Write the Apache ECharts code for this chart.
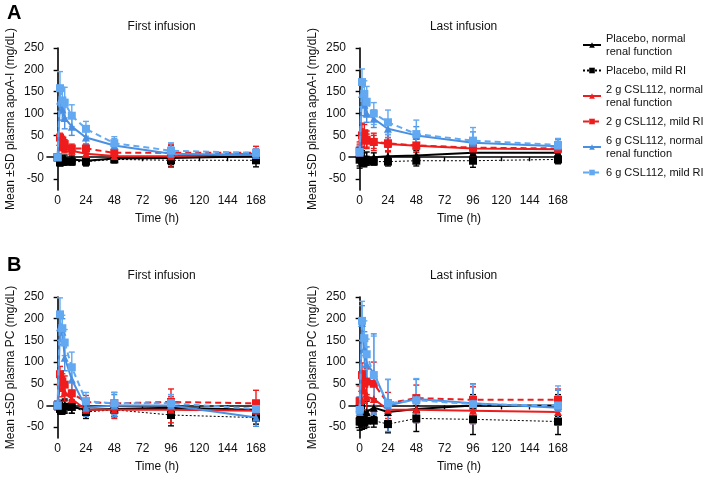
<!DOCTYPE html>
<html><head><meta charset="utf-8">
<script src="https://cdn.jsdelivr.net/npm/echarts@6/dist/echarts.min.js"></script>
<style>html,body{margin:0;padding:0;background:#fff}#c{width:710px;height:478px}</style>
</head><body><div id="c"></div>
<script>
// ---------- data ----------
const hours = [0, 2, 4, 6, 12, 24, 48, 96, 168];
const seriesNames = ['Placebo, normal renal function', 'Placebo, mild RI', '2 g CSL112, normal renal function', '2 g CSL112, mild RI', '6 g CSL112, normal renal function', '6 g CSL112, mild RI'];
const xTickValues = [0, 24, 48, 72, 96, 120, 144, 168];
const yTickValues = [-50, 0, 50, 100, 150, 200, 250];
const panelTitles = ['First infusion', 'Last infusion', 'First infusion', 'Last infusion'];
const yAxisNames = ['Mean ±SD plasma apoA-I (mg/dL)', 'Mean ±SD plasma apoA-I (mg/dL)', 'Mean ±SD plasma PC (mg/dL)', 'Mean ±SD plasma PC (mg/dL)'];

// apoA-I, first infusion (rows follow seriesNames)
const apoFirstMean = [
  [0, -5, -5, -3, -5, -8, -3, -2, 2],
  [0, -12, -10, -10, -10, -10, -5, -7, -7],
  [0, 35, 25, 20, 15, 8, 3, 2, 8],
  [0, 45, 38, 30, 20, 20, 10, 10, 10],
  [0, 130, 110, 90, 70, 45, 27, 8, 5],
  [0, 158, 130, 125, 95, 65, 32, 15, 10]
];
const apoFirstSD = [
  [5, 8, 8, 8, 8, 10, 8, 15, 10],
  [5, 8, 8, 8, 8, 10, 8, 15, 15],
  [5, 10, 10, 10, 10, 10, 10, 25, 10],
  [5, 10, 10, 10, 10, 10, 10, 20, 15],
  [5, 25, 25, 25, 20, 15, 15, 15, 10],
  [5, 38, 30, 35, 25, 17, 15, 18, 10]
];
// apoA-I, last infusion
const apoLastMean = [
  [-5, 0, -5, -3, 0, 2, 4, 10, 10],
  [-5, -8, -10, -8, -10, -10, -8, -8, -5],
  [10, 45, 40, 38, 35, 30, 26, 20, 18],
  [15, 50, 55, 40, 35, 32, 27, 22, 20],
  [10, 145, 120, 100, 88, 65, 50, 33, 25],
  [12, 172, 145, 127, 100, 80, 53, 38, 28]
];
const apoLastSD = [
  [20, 15, 15, 15, 10, 12, 12, 15, 15],
  [15, 12, 12, 10, 8, 10, 12, 15, 10],
  [20, 20, 20, 15, 15, 15, 15, 15, 10],
  [20, 28, 20, 20, 20, 20, 15, 20, 10],
  [15, 30, 25, 20, 20, 20, 20, 25, 15],
  [15, 30, 30, 35, 25, 28, 32, 30, 15]
];
// PC, first infusion
const pcFirstMean = [
  [0, -3, -5, 0, -3, -10, -8, -5, -10],
  [0, -8, -8, -3, -3, -15, -10, -22, -28],
  [0, 55, 40, 30, 15, -10, -10, -10, -12],
  [0, 72, 55, 48, 28, 8, 5, 8, 5],
  [0, 180, 170, 110, 60, -5, 0, 0, -28],
  [0, 210, 178, 145, 88, 10, 5, 5, -8]
];
const pcFirstSD = [
  [10, 15, 15, 15, 15, 15, 18, 20, 15],
  [10, 12, 12, 15, 15, 15, 15, 25, 15],
  [10, 20, 20, 20, 20, 15, 20, 30, 20],
  [10, 18, 18, 20, 25, 15, 25, 30, 30],
  [10, 30, 30, 30, 30, 20, 25, 25, 20],
  [10, 38, 30, 30, 35, 20, 25, 20, 20]
];
// PC, last infusion
const pcLastMean = [
  [-20, -25, -20, -15, -5, -15, -8, 0, 0],
  [-37, -40, -38, -35, -35, -43, -30, -32, -37],
  [-5, 40, 35, 20, 15, -10, -10, -12, -15],
  [10, 70, 50, 55, 50, 5, 17, 13, 13],
  [-15, 190, 130, 95, 75, 0, 15, 5, -5],
  [-10, 195, 155, 118, 70, 5, 12, 3, 0]
];
const pcLastSD = [
  [25, 25, 25, 25, 20, 20, 30, 25, 25],
  [20, 15, 15, 15, 15, 20, 30, 35, 30],
  [25, 30, 30, 30, 30, 20, 30, 30, 25],
  [35, 28, 30, 30, 50, 25, 30, 30, 25],
  [30, 40, 40, 40, 90, 60, 45, 45, 40],
  [30, 45, 40, 35, 90, 55, 50, 45, 45]
];

// ---------- styles ----------
const FONT = 'Liberation Sans, Arial, sans-serif';
const colors = ['#000000', '#000000', '#ee1c1c', '#ee1c1c', '#4a90e2', '#62a9f2'];
const symbols = ['triangle', 'rect', 'triangle', 'rect', 'triangle', 'rect'];
const lineTypes = ['solid', [2, 2], 'solid', [6, 4], 'solid', [6, 4]];
const lineWidths = [2, 1, 2, 2, 2, 2];
const legendText = {
  'Placebo, normal renal function': 'Placebo, normal\nrenal function',
  'Placebo, mild RI': 'Placebo, mild RI',
  '2 g CSL112, normal renal function': '2 g CSL112, normal\nrenal function',
  '2 g CSL112, mild RI': '2 g CSL112, mild RI',
  '6 g CSL112, normal renal function': '6 g CSL112, normal\nrenal function',
  '6 g CSL112, mild RI': '6 g CSL112, mild RI'
};

const panels = [
  {mean: apoFirstMean, sd: apoFirstSD},
  {mean: apoLastMean, sd: apoLastSD},
  {mean: pcFirstMean, sd: pcFirstSD},
  {mean: pcLastMean, sd: pcLastSD}
];
const gridPos = [
  {left: 47, top: 48, width: 209, height: 142},
  {left: 349, top: 48, width: 209, height: 142},
  {left: 47, top: 297, width: 209, height: 141},
  {left: 349, top: 297, width: 209, height: 141}
];

const grids = [], xAxes = [], yAxes = [], series = [], titles = [];
gridPos.forEach((g, p) => {
  grids.push(Object.assign({containLabel: false}, g));
  xAxes.push({
    type: 'value', gridIndex: p, min: -9, max: 168,
    axisLine: {show: true, lineStyle: {color: '#000', width: 1.6}},
    axisTick: {show: true, length: 4, customValues: xTickValues, lineStyle: {color: '#000', width: 1.4}},
    axisLabel: {customValues: xTickValues, color: '#111', fontSize: 12, fontFamily: FONT, margin: 5},
    splitLine: {show: false},
    name: 'Time (h)', nameLocation: 'middle', nameGap: 23,
    nameTextStyle: {color: '#111', fontSize: 12, fontFamily: FONT, padding: [0, 0, 0, 11]}
  });
  yAxes.push({
    type: 'value', gridIndex: p, min: -75, max: 250,
    axisLine: {show: true, lineStyle: {color: '#000', width: 1.6}},
    axisTick: {show: true, length: 4, customValues: yTickValues, lineStyle: {color: '#000', width: 1.4}},
    axisLabel: {customValues: yTickValues, color: '#111', fontSize: 12, fontFamily: FONT, margin: 3},
    splitLine: {show: false},
    name: yAxisNames[p], nameLocation: 'middle', nameGap: 30,
    nameTextStyle: {color: '#111', fontSize: 12, fontFamily: FONT}
  });
  titles.push({
    text: panelTitles[p],
    left: g.left + 10.6 + 99, top: g.top - 32, textAlign: 'center',
    textStyle: {fontSize: 12, fontWeight: 'normal', color: '#111', fontFamily: FONT}
  });
  const P = panels[p];
  for (let s = 0; s < 6; s++) {
    const errData = hours.map((h, i) => [h, P.mean[s][i] - P.sd[s][i], P.mean[s][i] + P.sd[s][i]]);
    series.push({
      type: 'custom', xAxisIndex: p, yAxisIndex: p, silent: true, z: 2 + s,
      encode: {x: 0, y: [1, 2]},
      data: errData,
      renderItem: ((col) => function (params, api) {
        const lo = api.coord([api.value(0), api.value(1)]);
        const hi = api.coord([api.value(0), api.value(2)]);
        const w = 3;
        const st = {stroke: col, lineWidth: 1.4};
        return {type: 'group', children: [
          {type: 'line', shape: {x1: lo[0], y1: lo[1], x2: hi[0], y2: hi[1]}, style: st},
          {type: 'line', shape: {x1: lo[0] - w, y1: lo[1], x2: lo[0] + w, y2: lo[1]}, style: st},
          {type: 'line', shape: {x1: hi[0] - w, y1: hi[1], x2: hi[0] + w, y2: hi[1]}, style: st}
        ]};
      })(colors[s])
    });
    series.push({
      type: 'line', name: seriesNames[s], xAxisIndex: p, yAxisIndex: p, z: 10 + s,
      data: hours.map((h, i) => [h, P.mean[s][i]]),
      symbol: symbols[s], symbolSize: 8,
      showSymbol: true, animation: false,
      itemStyle: {color: colors[s]},
      lineStyle: {color: colors[s], width: lineWidths[s], type: lineTypes[s]}
    });
  }
});

titles.push({text: 'A', left: 2, top: -2, textStyle: {fontSize: 20, fontWeight: 'bold', color: '#000', fontFamily: FONT}});
titles.push({text: 'B', left: 2, top: 250, textStyle: {fontSize: 20, fontWeight: 'bold', color: '#000', fontFamily: FONT}});

const chart = echarts.init(document.getElementById('c'), null, {renderer: 'canvas'});
chart.setOption({
  animation: false,
  backgroundColor: '#fff',
  title: titles,
  grid: grids, xAxis: xAxes, yAxis: yAxes,
  legend: {
    data: seriesNames, orient: 'vertical', left: 582, top: 32, padding: 0,
    itemWidth: 18, itemHeight: 7, itemGap: 6,
    formatter: (n) => legendText[n],
    textStyle: {fontSize: 11, lineHeight: 13, color: '#111', fontFamily: FONT}
  },
  series: series
});
</script>
</body></html>
